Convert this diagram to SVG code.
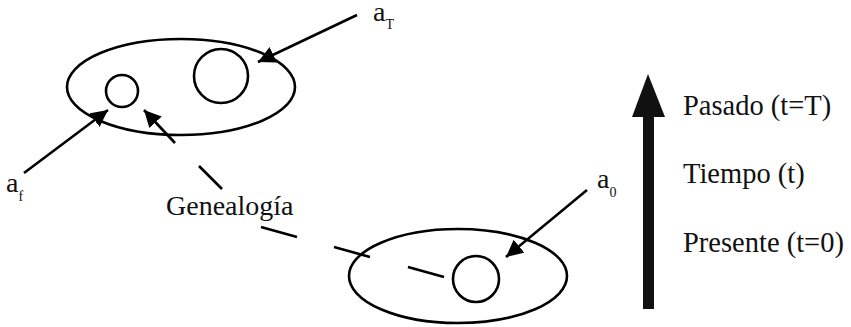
<svg xmlns="http://www.w3.org/2000/svg" width="851" height="327" viewBox="0 0 851 327">
<defs>
<style>
.ln{stroke:#000;stroke-width:2.6;fill:none}
.t{font-family:"Liberation Serif","Times New Roman",serif;fill:#111;font-size:28px}
.b{font-size:28.5px}
.s{font-family:"Liberation Serif","Times New Roman",serif;fill:#111;font-size:14px}
</style>
<marker id="ah" viewBox="0 0 10 10" refX="10" refY="5" markerWidth="6.5" markerHeight="6.5" markerUnits="strokeWidth" orient="auto">
<path d="M0,0 L10,5 L0,10 z" fill="#000"/>
</marker>
</defs>
<rect width="851" height="327" fill="#fff"/>
<g id="pasado">
<ellipse class="ln" cx="181" cy="87" rx="114" ry="48"/>
<circle id="af" class="ln" cx="122" cy="91" r="16"/>
<circle id="aT" class="ln" cx="221" cy="76" r="27"/>
</g>
<g id="presente">
<ellipse class="ln" cx="458" cy="276" rx="109" ry="47"/>
<circle id="a0" class="ln" cx="476" cy="279" r="23"/>
</g>
<g id="connectors">
<line class="ln" x1="357" y1="15" x2="258" y2="62" marker-end="url(#ah)"/>
<line class="ln" x1="24" y1="173" x2="108" y2="110" marker-end="url(#ah)"/>
<line class="ln" x1="175" y1="143" x2="144" y2="110" marker-end="url(#ah)"/>
<line class="ln" x1="587" y1="190" x2="506" y2="257" marker-end="url(#ah)"/>
<line class="ln" x1="199" y1="166" x2="222" y2="189"/>
<line class="ln" x1="261" y1="227" x2="297" y2="237"/>
<line class="ln" x1="334" y1="247" x2="370" y2="257"/>
<line class="ln" x1="408" y1="267" x2="444" y2="277"/>
</g>
<g id="tiempo">
<rect x="643" y="112" width="11" height="197" fill="#111"/>
<polygon points="648,74 665,117 632,117" fill="#111"/>
<text class="t b" x="683" y="115">Pasado (t=T)</text>
<text class="t b" x="683" y="183">Tiempo (t)</text>
<text class="t b" x="683" y="252">Presente (t=0)</text>
</g>
<g id="labels">
<text class="t" x="373" y="21">a<tspan class="s" dy="8">T</tspan></text>
<text class="t" x="6" y="192">a<tspan class="s" dy="9">f</tspan></text>
<text class="t" x="597" y="188">a<tspan class="s" dy="9">0</tspan></text>
<text class="t" x="166" y="215">Genealogía</text>
</g>
</svg>
